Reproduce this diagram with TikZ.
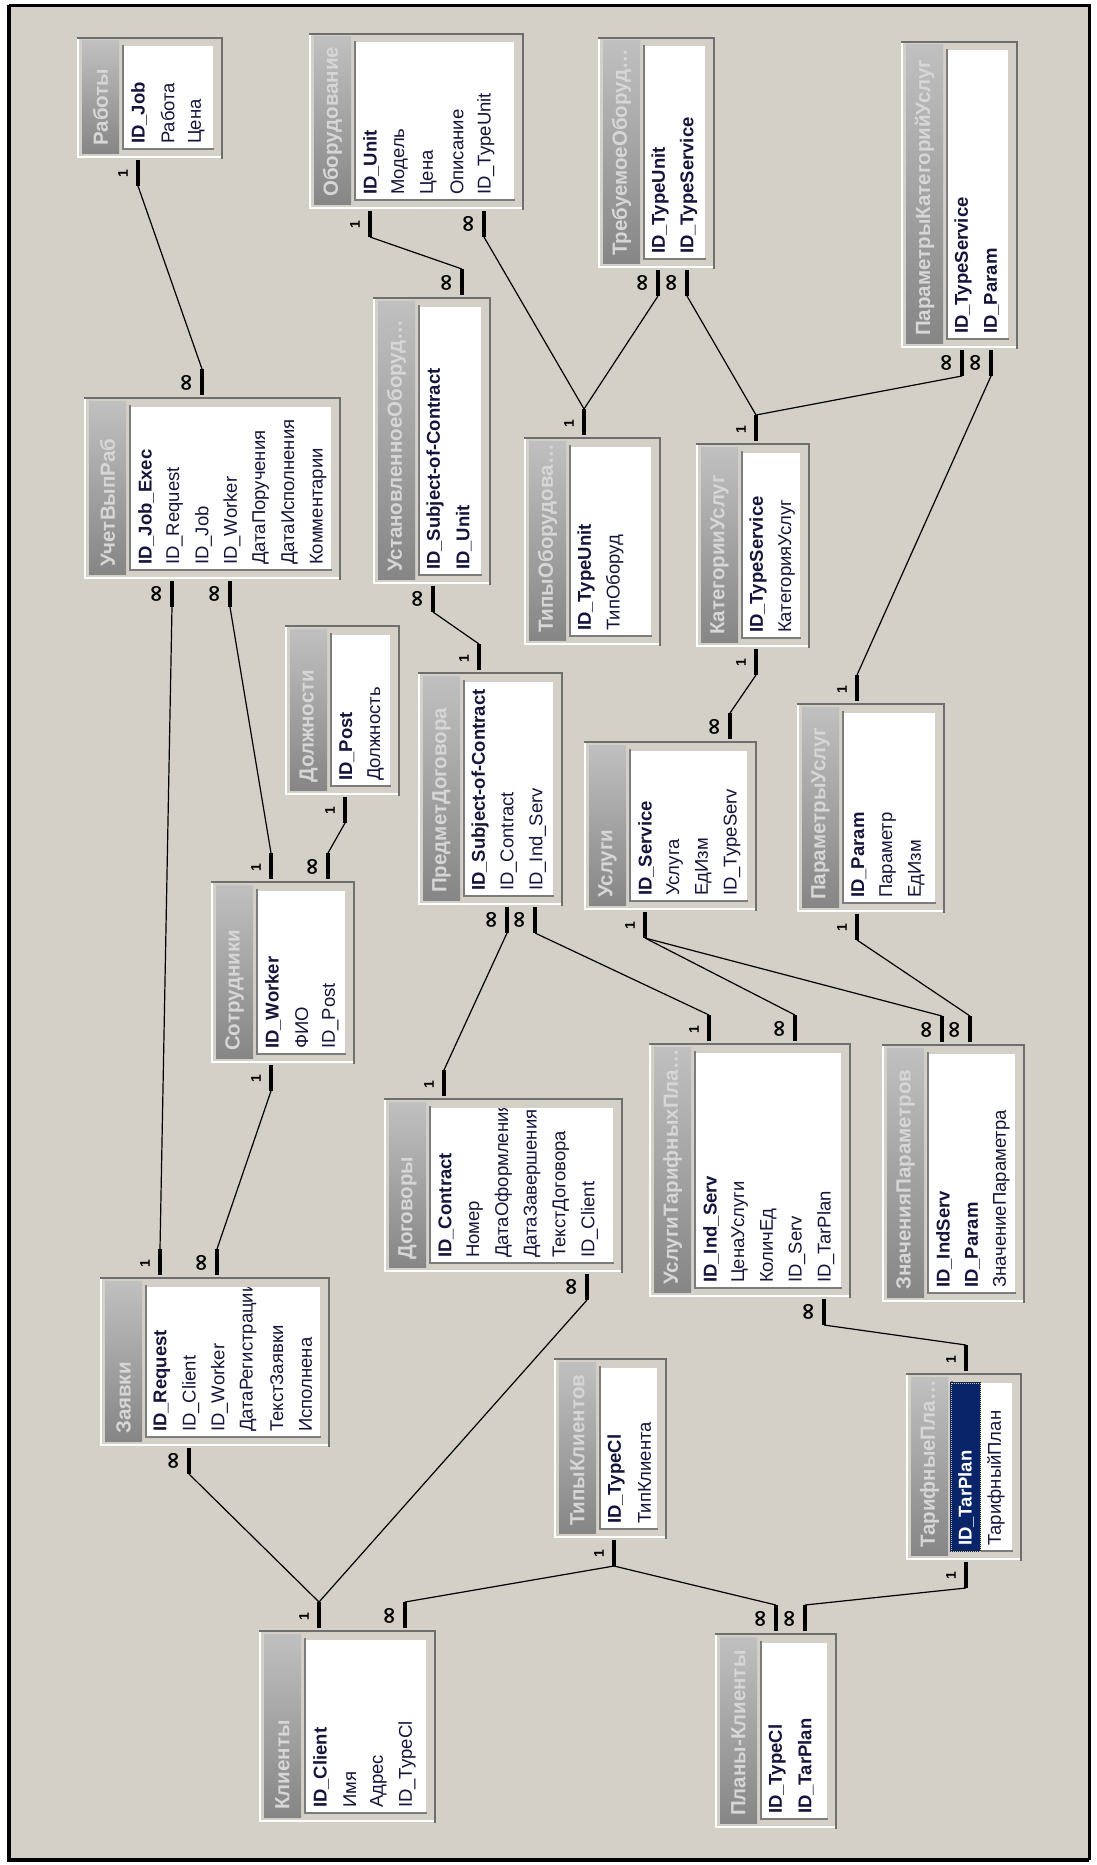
\documentclass[tikz,border=0pt]{standalone}
\usepackage{fontspec}
\setmainfont{Liberation Sans}
\newfontfamily\symfont{DejaVu Sans}
\definecolor{panel}{HTML}{D4D0C8}
\definecolor{edgegrey}{HTML}{6E6E6E}
\definecolor{wellgrey}{HTML}{7C7C7C}
\definecolor{stripTop}{HTML}{C0C0C0}
\definecolor{stripBot}{HTML}{868686}
\definecolor{titlegrey}{HTML}{D6D6D6}
\definecolor{fieldink}{HTML}{14143C}
\definecolor{selnavy}{HTML}{0A246A}
\definecolor{focusdot}{HTML}{D8C860}

\tikzset{
  tblnode/.style={fill=panel, draw=none, inner sep=0pt, outer sep=0pt},
  edgelight/.style={draw=white, line width=2},
  edgedark/.style={draw=edgegrey, line width=2.5},
  welldark/.style={draw=wellgrey, line width=2},
  welllight/.style={draw=panel, line width=1.5},
  stripshade/.style={top color=stripTop, bottom color=stripBot},
  titletext/.style={rotate=90, anchor=west, inner sep=0pt, text=titlegrey,
    font=\bfseries\fontsize{20.5}{22}\selectfont},
  fieldn/.style={rotate=90, anchor=west, inner sep=0pt, text=fieldink,
    font=\fontsize{18.5}{20}\selectfont},
  fieldb/.style={fieldn, font=\bfseries\fontsize{18.5}{20}\selectfont},
  fieldsel/.style={fieldb, text=white},
  markbar/.style={fill=black},
  onelab/.style={rotate=90, inner sep=0pt, font=\bfseries\fontsize{14}{14}\selectfont},
  manylab/.style={rotate=90, inner sep=0pt, font=\symfont\bfseries\fontsize{23}{23}\selectfont},
  relline/.style={draw=black, line width=1.2},
}

% table frame: name, left, top, right, bottom, caption
\newcommand{\dbframe}[6]{%
  \node[tblnode, minimum width={#4-#2}, minimum height={#5-#3}] (#1) at ({(#2+#4)/2},{(#3+#5)/2}) {};
  \draw[edgelight] (#2+1,#3+1) -- (#2+1,#5-1) -- (#4-1,#5-1);
  \draw[edgedark] (#2,#3+1.2) -- (#4-1.2,#3+1.2) -- (#4-1.2,#5+1);
  \shade[stripshade] (#2+5,#3+4) rectangle (#2+42,#5-5);
  \fill[white] (#2+45,#3+8) rectangle (#4-9,#5-8);
  \draw[welllight] (#2+45,#3+8.75) -- (#4-9.75,#3+8.75) -- (#4-9.75,#5-8);
  \draw[welldark] (#2+46,#3+8) -- (#2+46,#5-9) -- (#4-9,#5-9);
  \begin{scope}
    \clip (#2+5,#3+5) rectangle (#2+42,#5-5);
    \node[titletext] (#1-title) at (#2+23.5,#5-12) {#6};
  \end{scope}
}
% field list: name, left, top, right, bottom, list of style/text
\newcommand{\dbfields}[6]{%
  \begin{scope}
    \clip (#2+47,#3+10) rectangle (#4-10,#5-10);
    \foreach \w/\t [count=\i from 0] in {#6} {
      \node[field\w] (#1-f\i) at ({#2+62+28.7*\i},{#5-14}) {\t};
    }
  \end{scope}
}
\newcommand{\dbtable}[7]{\dbframe{#1}{#2}{#3}{#4}{#5}{#6}\dbfields{#1}{#2}{#3}{#4}{#5}{#7}}

% relation ends: name, x, box edge
\newcommand{\onebot}[3]{%
  \fill[markbar] (#2-2.3,#3+2) rectangle (#2+2.3,#3+28);
  \node[onelab] (#1-lab) at (#2-15,#3+16) {1};
  \coordinate (#1) at (#2,#3+28);}
\newcommand{\manybot}[3]{%
  \fill[markbar] (#2-2.3,#3+2) rectangle (#2+2.3,#3+28);
  \node[manylab] (#1-lab) at (#2-14,#3+15) {∞};
  \coordinate (#1) at (#2,#3+28);}
\newcommand{\onetop}[3]{%
  \fill[markbar] (#2-2.3,#3-28) rectangle (#2+2.3,#3-2);
  \node[onelab] (#1-lab) at (#2-15,#3-13) {1};
  \coordinate (#1) at (#2,#3-28);}
\newcommand{\manytop}[3]{%
  \fill[markbar] (#2-2.3,#3-28) rectangle (#2+2.3,#3-2);
  \node[manylab] (#1-lab) at (#2-14,#3-14) {∞};
  \coordinate (#1) at (#2,#3-28);}

\begin{document}
\begin{tikzpicture}[x=1pt,y=-1pt]
\useasboundingbox (0,0) rectangle (1096,1865);
\fill[white] (0,0) rectangle (1096,1865);
\fill[panel] (9,5) rectangle (1089,1860);
\draw[black, line width=3] (9,5.5) -- (1089,5.5) -- (1089,1860);
\draw[black, line width=4.5] (9,5) -- (9,1860) -- (1089,1860);

% tables
\dbtable{rab}{77}{37}{223}{158}{Работы}{b/ID\_Job, n/Работа, n/Цена}
\dbtable{obor}{309}{33}{524}{209}{Оборудование}{b/ID\_Unit, n/Модель, n/Цена, n/Описание, n/ID\_TypeUnit}
\dbtable{treb}{598}{37}{715}{268}{ТребуемоеОборуд…}{b/ID\_TypeUnit, b/ID\_TypeService}
\dbtable{parkat}{901}{41}{1018}{348}{ПараметрыКатегорийУслуг}{b/ID\_TypeService, b/ID\_Param}
\dbtable{uchet}{84}{397}{341}{579}{УчетВыпРаб}{b/ID\_Job\_Exec, n/ID\_Request, n/ID\_Job, n/ID\_Worker, n/ДатаПоручения, n/ДатаИсполнения, n/Комментарии}
\dbtable{ustan}{373}{297}{491}{584}{УстановленноеОборуд…}{b/ID\_Subject-of-Contract, b/ID\_Unit}
\dbtable{tipobor}{524}{437}{661}{645}{ТипыОборудова…}{b/ID\_TypeUnit, n/ТипОборуд}
\dbtable{katus}{696}{443}{810}{647}{КатегорииУслуг}{b/ID\_TypeService, n/КатегорияУслуг}
\dbtable{dolzh}{285}{625}{400}{795}{Должности}{b/ID\_Post, n/Должность}
\dbtable{predm}{418}{672}{563}{905}{ПредметДоговора}{b/ID\_Subject-of-Contract, n/ID\_Contract, n/ID\_Ind\_Serv}
\dbtable{uslugi}{584}{741}{757}{910}{Услуги}{b/ID\_Service, n/Услуга, n/ЕдИзм, n/ID\_TypeServ}
\dbtable{parus}{797}{703}{945}{912}{ПараметрыУслуг}{b/ID\_Param, n/Параметр, n/ЕдИзм}
\dbtable{sotr}{211}{881}{355}{1063}{Сотрудники}{b/ID\_Worker, n/ФИО, n/ID\_Post}
\dbtable{dogov}{384}{1098}{623}{1272}{Договоры}{b/ID\_Contract, n/Номер, n/ДатаОформления, n/ДатаЗавершения, n/ТекстДоговора, n/ID\_Client}
\dbtable{ustar}{649}{1043}{851}{1297}{УслугиТарифныхПла…}{b/ID\_Ind\_Serv, n/ЦенаУслуги, n/КоличЕд, n/ID\_Serv, n/ID\_TarPlan}
\dbtable{znach}{882}{1044}{1025}{1302}{ЗначенияПараметров}{b/ID\_IndServ, b/ID\_Param, n/ЗначениеПараметра}
\dbtable{zayav}{100}{1277}{330}{1446}{Заявки}{b/ID\_Request, n/ID\_Client, n/ID\_Worker, n/ДатаРегистрации, n/ТекстЗаявки, n/Исполнена}
\dbtable{tipkl}{554}{1358}{667}{1538}{ТипыКлиентов}{b/ID\_TypeCl, n/ТипКлиента}
\dbframe{tarpl}{906}{1373}{1022}{1560}{ТарифныеПла…}
\fill[selnavy] (950,1382) rectangle (981,1552);
\draw[focusdot, line width=1, densely dotted] (951,1383) rectangle (980,1551);
\node[fieldsel] (tarpl-f0) at (966,1546) {ID\_TarPlan};
\node[fieldn] (tarpl-f1) at (996,1546) {ТарифныйПлан};
\dbtable{klient}{259}{1630}{436}{1822}{Клиенты}{b/ID\_Client, n/Имя, n/Адрес, n/ID\_TypeCl}
\dbtable{plany}{715}{1633}{837}{1828}{Планы-Клиенты}{b/ID\_TypeCl, b/ID\_TarPlan}

% relation ends
\onebot{r1a}{138}{158}   \manytop{r1b}{202}{397}
\onebot{r2a}{370}{209}   \manytop{r2b}{462}{297}
\manybot{r3a}{484}{209}  \onetop{tipoborT}{584}{437}
\manybot{r4a}{658}{268}
\manybot{r5a}{687}{268}  \onetop{katusT}{756}{443}
\manybot{r6a}{962}{348}
\manybot{r7a}{991}{348}  \onetop{r7b}{857}{703}
\manybot{r8a}{172}{579}  \onetop{r8b}{160}{1277}
\manybot{r9a}{230}{579}  \onetop{r9b}{271}{881}
\onebot{r10a}{345}{795}  \manytop{r10b}{328}{881}
\manybot{r11a}{433}{584} \onetop{r11b}{479}{672}
\manybot{r12a}{507}{905} \onetop{r12b}{444}{1098}
\manybot{r13a}{535}{905} \onetop{r13b}{709}{1043}
\onebot{r14a}{756}{647}  \manytop{r14b}{730}{741}
\onebot{uslB}{645}{910}  \manytop{r15b}{795}{1043} \manytop{r16b}{942}{1044}
\onebot{r17a}{857}{912}  \manytop{r17b}{970}{1044}
\onebot{r18a}{271}{1063} \manytop{r18b}{217}{1277}
\manybot{r19a}{587}{1272} \onetop{klientT}{319}{1630}
\manybot{r20a}{189}{1446}
\manybot{r21a}{824}{1297} \onetop{r21b}{966}{1373}
\onebot{tipklB}{614}{1538} \manytop{r22b}{405}{1630} \manytop{r23b}{776}{1633}
\onebot{r24a}{966}{1560} \manytop{r24b}{805}{1633}

% relationship lines
\draw[relline] (r1a) -- (r1b);
\draw[relline] (r2a) -- (r2b);
\draw[relline] (r3a) -- (tipoborT);
\draw[relline] (r4a) -- (tipoborT);
\draw[relline] (r5a) -- (katusT);
\draw[relline] (r6a) -- (katusT);
\draw[relline] (r7a) -- (r7b);
\draw[relline] (r8a) -- (r8b);
\draw[relline] (r9a) -- (r9b);
\draw[relline] (r10a) -- (r10b);
\draw[relline] (r11a) -- (r11b);
\draw[relline] (r12a) -- (r12b);
\draw[relline] (r13a) -- (r13b);
\draw[relline] (r14a) -- (r14b);
\draw[relline] (uslB) -- (r15b);
\draw[relline] (uslB) -- (r16b);
\draw[relline] (r17a) -- (r17b);
\draw[relline] (r18a) -- (r18b);
\draw[relline] (r19a) -- (klientT);
\draw[relline] (r20a) -- (klientT);
\draw[relline] (r21a) -- (r21b);
\draw[relline] (tipklB) -- (r22b);
\draw[relline] (tipklB) -- (r23b);
\draw[relline] (r24a) -- (r24b);
\end{tikzpicture}
\end{document}
